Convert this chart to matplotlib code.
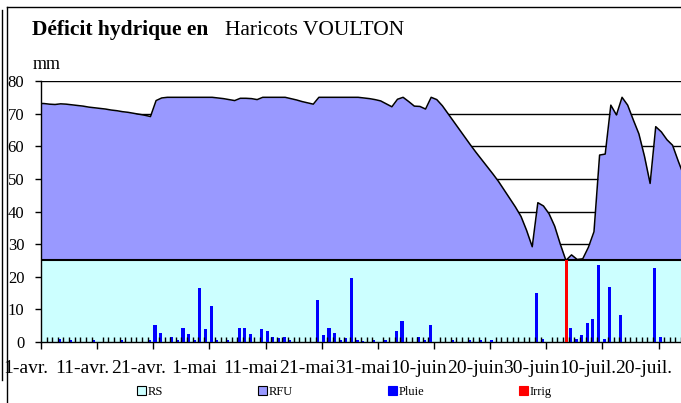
import numpy as np
import matplotlib
matplotlib.use("Agg")
import matplotlib.pyplot as plt
from matplotlib.patches import Patch
from matplotlib.lines import Line2D
from matplotlib.transforms import ScaledTranslation

# ---------------- data ----------------
# water reserve level (RS + RFU), mm, one value per day starting 1 April
reserve = [
    73.1, 72.9, 72.8, 73.0, 72.9, 72.7, 72.5, 72.3, 72.0, 71.8,
    71.6, 71.4, 71.1, 70.9, 70.6, 70.4, 70.1, 69.8, 69.5, 69.1,
    74.0, 74.8, 75.0, 75.0, 75.0, 75.0, 75.0, 75.0, 75.0, 75.0,
    75.0, 74.8, 74.6, 74.3, 74.0, 74.7, 74.7, 74.6, 74.3, 75.0,
    75.0, 75.0, 75.0, 75.0, 74.6, 74.2, 73.7, 73.3, 72.9, 75.0,
    75.0, 75.0, 75.0, 75.0, 75.0, 75.0, 75.0, 74.8, 74.6, 74.3,
    73.9, 73.0, 72.1, 74.4, 75.0, 73.7, 72.3, 72.2, 71.4, 75.0,
    74.3, 72.4, 70.0, 67.6, 65.2, 62.8, 60.4, 58.1, 55.9, 53.7,
    51.5, 49.2, 46.6, 44.0, 41.4, 38.5, 34.2, 29.2, 42.7, 41.7,
    39.3, 35.5, 30.0, 25.0, 26.7, 25.3, 25.5, 29.0, 33.8, 57.3,
    57.6, 72.6, 69.6, 75.0, 72.6, 68.1, 63.8, 56.9, 48.6, 66.0,
    64.4, 62.0, 60.3, 55.5, 51.0,
]
RS_LEVEL = 25  # RS (réserve de survie), mm

pluie_days = [3, 5, 9, 14, 19, 20, 21, 23, 24, 25, 26, 27, 28, 29, 30, 31, 33,
              35, 36, 37, 39, 40, 41, 42, 43, 44, 49, 50, 51, 52, 53, 54, 55,
              56, 57, 59, 61, 63, 64, 67, 68, 69, 73, 76, 78, 80, 88, 89, 94,
              95, 96, 97, 98, 99, 100, 101, 103, 109, 110]
pluie_mm = [0.8, 0.5, 0.5, 0.5, 0.5, 5.2, 2.7, 1.6, 0.5, 4.2, 2.6, 0.5, 16.6,
            3.9, 11.1, 0.7, 0.5, 4.2, 4.2, 2.6, 3.9, 3.4, 1.6, 1.3, 1.6, 0.6,
            12.9, 2.1, 4.2, 2.9, 0.6, 1.2, 19.7, 0.6, 0.4, 0.5, 0.5, 3.4, 6.4,
            1.4, 0.6, 5.1, 0.5, 0.6, 0.5, 0.7, 14.9, 1.0, 4.4, 1.0, 2.1, 5.9,
            7.2, 23.6, 1.0, 16.8, 8.2, 22.6, 1.5]

irrig_days = [93]
irrig_mm = [25]

tick_days = [0, 10, 20, 30, 40, 50, 60, 70, 80, 90, 100, 110]
tick_labels = ['1-avr.', '11-avr.', '21-avr.', '1-mai', '11-mai', '21-mai',
               '31-mai', '10-juin', '20-juin', '30-juin', '10-juil.', '20-juil.']

# ---------------- figure ----------------
W, H = 681, 403
fig = plt.figure(figsize=(W / 100, H / 100), dpi=100)
fig.patch.set_facecolor('white')
SERIF = ['Liberation Serif', 'DejaVu Serif']

ax = fig.add_axes([41 / W, 61 / H, (W - 41) / W, 261 / H])
ax.set_xlim(0, 114)
ax.set_ylim(0, 80)

days = np.arange(len(reserve))
xs = np.concatenate([[0], days + 0.5])
ys = np.concatenate([[reserve[0]], reserve])
rs = np.full(len(xs), RS_LEVEL)

C_RS = '#CCFFFF'
C_RFU = '#9999FF'

ax.fill_between(xs, 0, rs, color=C_RS, lw=0, zorder=1)
ax.fill_between(xs, rs, ys, color=C_RFU, lw=0, zorder=1)
ax.plot(xs, rs, color='black', lw=1.5, zorder=2)
ax.plot(xs, ys, color='black', lw=1.1, zorder=2)

ax.bar(np.array(pluie_days) + 0.3, pluie_mm, width=0.55, color='#0000FF',
       lw=0, zorder=3)
ax.bar(np.array(irrig_days) + 0.6, irrig_mm, width=0.55, color='#FF0000',
       lw=0, zorder=3)

# grid
ax.set_yticks(range(0, 81, 10))
ax.yaxis.grid(True, color='black', lw=1.0)
ax.set_axisbelow(True)
ax.xaxis.set_zorder(4)

ax.set_xticks(tick_days)
ax.set_xticks(np.arange(0, 115, 1), minor=True)
ax.set_xticklabels(tick_labels, fontsize=14, family=SERIF)
ax.set_yticklabels([str(v) for v in range(0, 81, 10)], fontsize=12, family=SERIF)
ax.tick_params(axis='x', which='major', direction='out', length=5, width=1,
               pad=8, color='black')
ax.tick_params(axis='x', which='minor', direction='in', length=3.5, width=1,
               color='black')
ax.tick_params(axis='y', direction='out', length=4, width=1, pad=8)
for s in ['top', 'right']:
    ax.spines[s].set_visible(False)
for s in ['left', 'bottom']:
    ax.spines[s].set_color('black')
    ax.spines[s].set_linewidth(1.0)

offset = ScaledTranslation(-15 / 100, 0, fig.dpi_scale_trans)
for lab in ax.get_xticklabels():
    lab.set_transform(lab.get_transform() + offset)

# titles
fig.text(32 / W, 1 - 35 / H, 'Déficit hydrique en', fontsize=15.5,
         fontweight='bold', family=SERIF, va='baseline', ha='left')
fig.text(225 / W, 1 - 35 / H, 'Haricots VOULTON', fontsize=15.5,
         family=SERIF, va='baseline', ha='left')
fig.text(33 / W, 1 - 69 / H, 'mm', fontsize=13, family=SERIF,
         va='baseline', ha='left')

# legend
handles = [Patch(facecolor=C_RS, edgecolor='black', lw=0.8),
           Patch(facecolor=C_RFU, edgecolor='black', lw=0.8),
           Patch(facecolor='#0000FF', edgecolor='#0000FF', lw=0.8),
           Patch(facecolor='#FF0000', edgecolor='#FF0000', lw=0.8)]
fig.legend(handles, ['RS', 'RFU', 'Pluie', 'Irrig'], loc='center',
           bbox_to_anchor=(0.5 + 4 / W, 1 - 392 / H), ncol=4, frameon=False,
           prop={'family': SERIF, 'size': 9}, handlelength=0.7,
           handleheight=0.7, handletextpad=0.15, columnspacing=7.6,
           borderaxespad=0)

# chart frame
fig.add_artist(Line2D([6.5 / W, 6.5 / W], [0, 1 - 6.5 / H], color='black',
                      lw=1.0, transform=fig.transFigure))
fig.add_artist(Line2D([6.5 / W, 1], [1 - 6.5 / H, 1 - 6.5 / H], color='black',
                      lw=1.0, transform=fig.transFigure))
fig.add_artist(Line2D([2 / W, 2 / W], [1 - 380 / H, 1 - 10 / H], color='black',
                      lw=1.0, transform=fig.transFigure))

fig.savefig('out.png', dpi=100)
